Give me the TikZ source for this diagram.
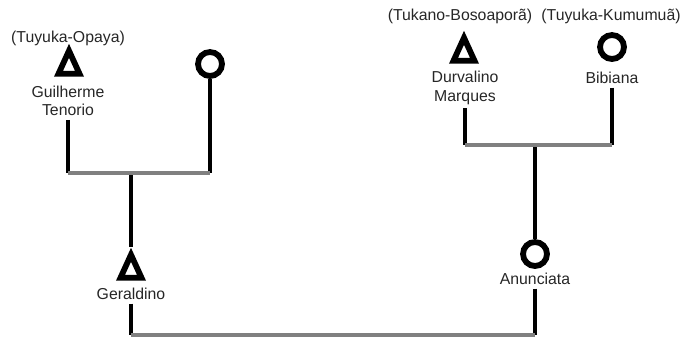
\documentclass[tikz,border=0pt]{standalone}
\usepackage{fontspec}
\setmainfont{Liberation Sans}
\usetikzlibrary{shapes.geometric,positioning}

\begin{document}
\begin{tikzpicture}[x=0.02cm,y=-0.02cm,
    male/.style={draw,isosceles triangle,shape border rotate=90,isosceles triangle stretches,
      minimum width=0.42cm,minimum height=0.46cm,line width=3.3pt,inner sep=0pt},
    female/.style={draw,circle,line width=3.3pt,minimum size=0.48cm,inner sep=0pt},
    lbl/.style={font=\fontsize{9}{10.5}\selectfont,text=black!85,align=center,inner sep=2pt},
    tie/.style={line width=2.6pt},
    marriage/.style={line width=2.6pt,draw=gray}]
    \useasboundingbox (0,0) rectangle (686,339);

    % grandparents, left side
    \node[lbl] (gui-cl) at (68,38) {(Tuyuka-Opaya)};
    \node[male] (gui) at (69,67) {};
    \node[lbl] (gui-n) at (68,101) {Guilherme\\Tenorio};
    \node[female] (gma) at (210,64) {};

    % grandparents, right side
    \node[lbl] (dur-cl) at (460,16) {(Tukano-Bosoaporã)};
    \node[male] (dur) at (464,54) {};
    \node[lbl] (dur-n) at (465,88) {Durvalino\\Marques};
    \node[lbl] (bib-cl) at (611,16) {(Tuyuka-Kumumuã)};
    \node[female] (bib) at (612,47) {};
    \node[lbl] (bib-n) at (612,78) {Bibiana};

    % children
    \node[male] (ger) at (131,271) {};
    \node[lbl] (ger-n) at (131,294) {Geraldino};
    \node[female] (anu) at (535,254) {};
    \node[lbl] (anu-n) at (535,279) {Anunciata};

    % junctions
    \coordinate (gui-j) at (68,173);
    \coordinate (gma-j) at (210,173);
    \coordinate (ger-j) at (131,173);
    \coordinate (dur-j) at (465,145);
    \coordinate (bib-j) at (612,145);
    \coordinate (anu-j) at (535,145);
    \coordinate (ger-b) at (131,335);
    \coordinate (anu-b) at (535,335);

    \draw[tie] (gui-n) -- (gui-j);
    \draw[tie] (gma) -- (gma-j);
    \draw[tie] (ger-j) -- (ger.apex);
    \draw[tie] (dur-n) -- (dur-j);
    \draw[tie] (bib-n) -- (bib-j);
    \draw[tie] (anu-j) -- (anu);
    \draw[tie] (ger-n) -- (ger-b);
    \draw[tie] (anu-n) -- (anu-b);

    \draw[marriage] (gui-j) -- (gma-j);
    \draw[marriage] (dur-j) -- (bib-j);
    \draw[marriage] (ger-b) -- (anu-b);
  \end{tikzpicture}
\end{document}
